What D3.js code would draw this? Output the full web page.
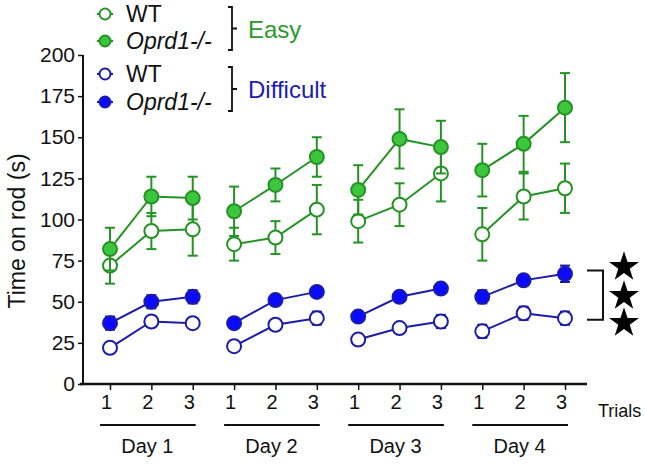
<!DOCTYPE html>
<html><head><meta charset="utf-8">
<script src="https://cdn.jsdelivr.net/npm/d3@7"></script>
<style>body{margin:0;background:#fff}svg{display:block;font-family:"Liberation Sans",Arial,sans-serif}</style>
</head><body><svg id="c" width="645" height="468"></svg>
<script>
const trialLabels = ["1","2","3","1","2","3","1","2","3","1","2","3"];
const dayLabels = ["Day 1","Day 2","Day 3","Day 4"];
const yTicks = [0,25,50,75,100,125,150,175,200];
const easyWT = [72,93,94, 85,89,106, 99,109,128, 91,114,119];
const easyWTerr = [11,11,16, 10,10,15, 13,13,17, 16,14,15];
const easyKO = [82,114,113, 105,121,138, 118,149,144, 130,146,168];
const easyKOerr = [13,12,13, 15,10,12, 15,18,16, 16,17,21];
const diffWT = [22,38,37, 23,36,40, 27,34,38, 32,43,40];
const diffWTerr = [3,3,3, 2,3,4, 2,3,4, 4,4,4];
const diffKO = [37,50,53, 37,51,56, 41,53,58, 53,63,67];
const diffKOerr = [4,4,4, 2,2,2, 2,3,3, 4,3,5];

const svg = d3.select("#c");
const x = d3.scaleLinear().domain([0,11]).range([110,565]);
const y = d3.scaleLinear().domain([0,200]).range([384,55]);

const GREEN="#249324", GREENF="#3dc63d", BLUE="#1c1ca8", BLUEF="#0a0aff";
const FONT="Liberation Sans, Arial, sans-serif";

// Y axis
const ya = svg.append("g").attr("transform","translate(83,0)")
  .call(d3.axisLeft(y).tickValues(yTicks).tickSize(5).tickPadding(3));
ya.select(".domain").attr("stroke","#111").attr("stroke-width",2).attr("d","M0,55V384");
ya.selectAll(".tick line").attr("stroke","#111").attr("stroke-width",1.5);
ya.selectAll("text").attr("font-size",21).attr("fill","#111").attr("font-family",FONT);

// X axis
const xa = svg.append("g").attr("transform","translate(0,384)")
  .call(d3.axisBottom(x).tickValues(d3.range(12)).tickFormat((d,i)=>trialLabels[i]).tickSize(6).tickPadding(5));
xa.select(".domain").attr("stroke","#111").attr("stroke-width",2.5).attr("d","M80,0H587");
xa.selectAll(".tick line").attr("stroke","#111").attr("stroke-width",1.5);
xa.selectAll("text").attr("font-size",20).attr("fill","#111").attr("dx",-4).attr("font-family",FONT);

svg.append("text").attr("x",598).attr("y",417).attr("font-size",18).attr("fill","#111").text("Trials");

dayLabels.forEach((d,i)=>{
  const x0 = x(i*3), x2 = x(i*3+2);
  svg.append("line").attr("x1",x0-10).attr("x2",x2+3).attr("y1",425).attr("y2",425).attr("stroke","#111").attr("stroke-width",1.8);
  svg.append("text").attr("x",x(i*3+1)-4).attr("y",453).attr("text-anchor","middle").attr("font-size",20).attr("fill","#111").text(d);
});

// Y label
svg.append("text").attr("transform","translate(25,231) rotate(-90)").attr("text-anchor","middle")
  .attr("font-size",23).attr("fill","#111").text("Time on rod (s)");

function series(vals, errs, stroke, fill){
  const g = svg.append("g");
  for (let d=0; d<4; d++){
    const idx=[d*3,d*3+1,d*3+2];
    g.append("path").attr("d", d3.line().x(i=>x(i)).y(i=>y(vals[i]))(idx))
      .attr("fill","none").attr("stroke",stroke).attr("stroke-width",2);
  }
  vals.forEach((v,i)=>{
    const cx=x(i), t=y(v+errs[i]), b=y(v-errs[i]);
    g.append("line").attr("x1",cx).attr("x2",cx).attr("y1",t).attr("y2",b).attr("stroke",stroke).attr("stroke-width",2);
    g.append("line").attr("x1",cx-5).attr("x2",cx+5).attr("y1",t).attr("y2",t).attr("stroke",stroke).attr("stroke-width",2);
    g.append("line").attr("x1",cx-5).attr("x2",cx+5).attr("y1",b).attr("y2",b).attr("stroke",stroke).attr("stroke-width",2);
  });
  g.selectAll("circle").data(vals).join("circle").attr("cx",(v,i)=>x(i)).attr("cy",v=>y(v)).attr("r",7)
    .attr("fill",fill).attr("stroke",stroke).attr("stroke-width",2);
}
series(easyWT, easyWTerr, GREEN, "#fff");
series(easyKO, easyKOerr, GREEN, GREENF);
series(diffWT, diffWTerr, BLUE, "#fff");
series(diffKO, diffKOerr, BLUE, BLUEF);

// Legend
const leg = [
  {y:14, stroke:GREEN, fill:"#fff", label:"WT", it:false},
  {y:41, stroke:GREEN, fill:GREENF, label:"Oprd1-/-", it:true},
  {y:74, stroke:BLUE, fill:"#fff", label:"WT", it:false},
  {y:102, stroke:BLUE, fill:BLUEF, label:"Oprd1-/-", it:true}
];
leg.forEach(l=>{
  svg.append("line").attr("x1",97).attr("x2",113).attr("y1",l.y).attr("y2",l.y).attr("stroke",l.stroke).attr("stroke-width",2);
  svg.append("circle").attr("cx",105).attr("cy",l.y).attr("r",5.5).attr("fill",l.fill).attr("stroke",l.stroke).attr("stroke-width",2);
  svg.append("text").attr("x",126).attr("y",l.y+8).attr("font-size",23).attr("fill","#111")
    .attr("font-style",l.it?"italic":"normal").text(l.label);
});
function brace(x0,y0,y1){
  const m=(y0+y1)/2;
  svg.append("path").attr("d",`M${x0-4},${y0}H${x0}V${y1}H${x0-4}M${x0},${m}H${x0+5}`)
    .attr("fill","none").attr("stroke","#111").attr("stroke-width",1.8);
}
brace(232,7,50);
brace(232,67,111);
svg.append("text").attr("x",248).attr("y",38).attr("font-size",24).attr("fill","#2a9a2a").text("Easy");
svg.append("text").attr("x",248).attr("y",98).attr("font-size",24).attr("fill","#1c1cb0").text("Difficult");

// Significance bracket and stars
svg.append("path").attr("d",`M587,${y(69)}H603V${y(39)}H587`).attr("fill","none").attr("stroke","#111").attr("stroke-width",2);
const star = d3.symbol().type(d3.symbolStar).size(280);
[267,296,323].forEach(sy=>{
  svg.append("path").attr("d",star()).attr("transform",`translate(624,${sy})`).attr("fill","#000");
});
</script></body></html>
